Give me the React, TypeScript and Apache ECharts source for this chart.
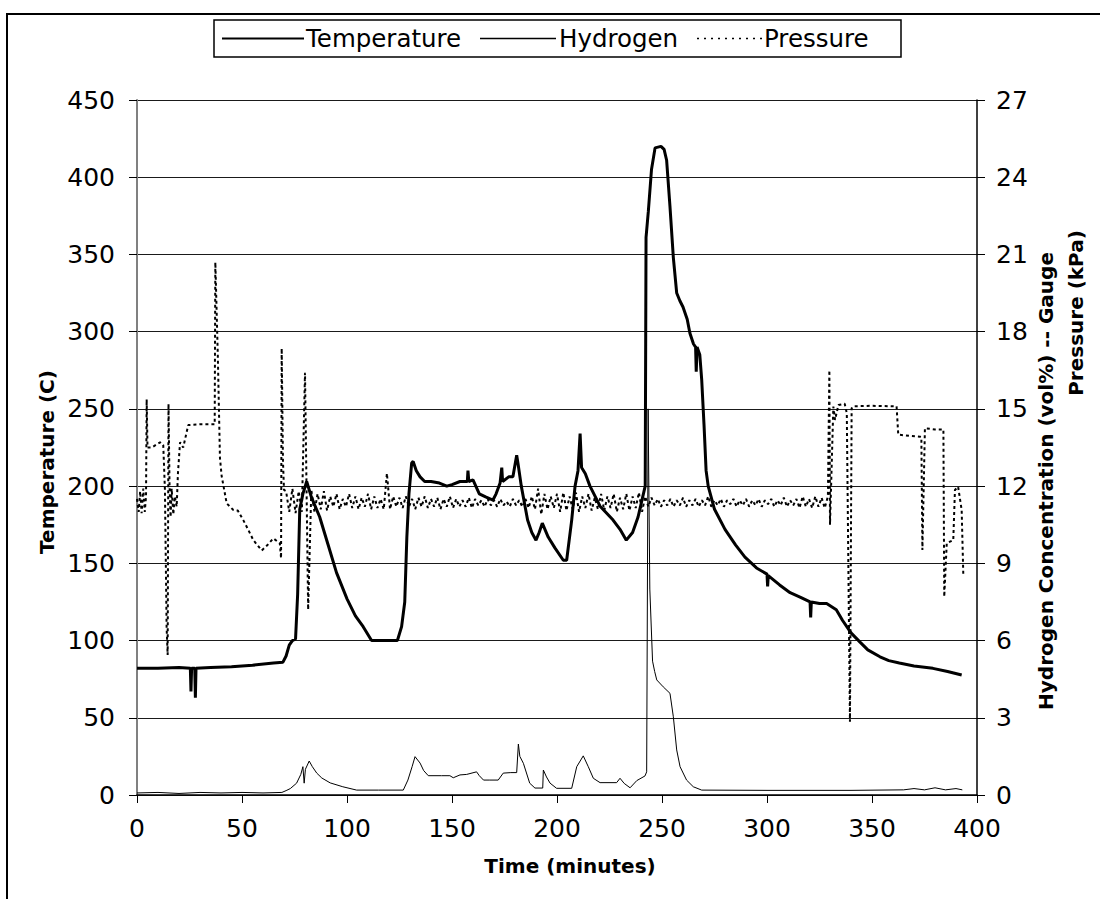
import React, { useEffect, useRef } from "react";
import * as echarts from "echarts";

// ---- Data (time in minutes) ----
const temperature: [number, number][] = [
  [0, 82], [10, 82], [20, 82.5], [25.4, 82], [25.7, 67], [26, 82], [27.5, 82], [27.8, 63], [28.1, 82],
  [35, 82.5], [45, 83], [55, 84], [65, 85.5], [69.5, 86], [71, 90], [72.5, 97], [74, 100], [75.5, 101],
  [76.5, 130], [77.5, 185], [79, 195], [80.8, 203], [83, 193], [87, 180], [91, 162], [95, 144], [100, 127],
  [104, 116], [107.7, 109], [111.7, 100], [118, 100], [124, 100], [126, 109], [127.5, 125], [128.5, 167],
  [129.5, 195], [130.8, 215], [131.5, 216], [133, 210], [134.8, 206], [137, 203], [140, 203], [144, 202],
  [147.5, 200], [150, 201], [153.8, 203], [156, 203], [157.3, 203], [157.6, 210], [158, 203], [160, 204],
  [163, 195], [166, 193], [169.5, 191], [171, 195], [172.9, 202], [173.7, 212], [174.1, 203], [177, 206],
  [179, 206], [180.8, 220], [181.5, 214], [183, 200], [186, 178], [188, 170], [190, 165], [191.5, 170],
  [193, 176], [195.8, 167], [199, 160], [203, 152], [204.6, 152], [207, 178], [208.6, 200], [210, 210],
  [211, 234], [211.7, 212], [213.5, 208], [215.7, 200], [220.5, 187], [226.7, 178], [230, 172], [233, 165],
  [236, 170], [238.6, 180], [242, 200], [242.4, 361], [243.5, 378], [245, 405], [246.7, 419], [249.5, 420],
  [251, 418], [252.2, 411], [253.8, 381], [255.4, 348], [257, 325], [258.5, 320], [260, 316], [262, 308],
  [263.3, 299], [265, 292], [266, 290], [266.3, 274], [266.7, 290], [268, 285], [268.9, 269], [270, 240],
  [271, 210], [272, 200], [275, 185], [280, 172], [285, 162], [289.5, 154], [295, 147], [300, 143],
  [300.3, 135], [300.6, 142], [306, 136], [311, 131], [316, 128], [320.5, 125], [320.8, 115], [321.1, 125],
  [325, 124], [328.4, 124], [333, 120], [336, 113], [338, 109], [340, 105], [344.3, 99], [348, 94],
  [353.8, 89.5], [358, 87], [363, 85.5], [370, 83.5], [379, 82], [386, 80], [392.7, 77.7],
];

const hydrogen: [number, number][] = [
  [0, 0.08], [10, 0.1], [20, 0.06], [30, 0.1], [40, 0.08], [50, 0.1], [60, 0.08], [69, 0.1], [71, 0.17],
  [73, 0.25], [76, 0.46], [78, 0.8], [79, 1.1], [79.6, 0.46], [80.2, 1.0], [82, 1.32], [83.5, 1.1],
  [85.6, 0.85], [88, 0.66], [92, 0.47], [98, 0.32], [104.6, 0.19], [115, 0.19], [126.8, 0.19], [129, 0.58],
  [131, 1.1], [132.4, 1.49], [134.8, 1.24], [136.5, 0.95], [138.7, 0.75], [145, 0.75], [149, 0.75],
  [150.6, 0.67], [153.8, 0.78], [157, 0.8], [161.7, 0.9], [163, 0.75], [165, 0.58], [168, 0.58], [172, 0.58],
  [174.4, 0.85], [178, 0.87], [180.8, 0.87], [181.6, 1.98], [182.3, 1.5], [184, 1.23], [187, 0.46],
  [189.5, 0.27], [193.2, 0.27], [193.5, 0.97], [195, 0.7], [196.7, 0.46], [199.8, 0.26], [207, 0.26],
  [209.4, 1.1], [212.5, 1.52], [214.9, 1.1], [217.3, 0.65], [220.5, 0.48], [228.4, 0.48], [230, 0.65],
  [232, 0.45], [234.8, 0.28], [238, 0.56], [241.9, 0.74], [242.7, 0.9], [243.4, 15.0], [244.2, 8.0],
  [245.5, 5.2], [246.5, 4.8], [247.5, 4.47], [250.6, 4.2], [253.8, 3.95], [255.4, 3.04], [257, 1.75],
  [258.6, 1.1], [261.7, 0.58], [264.9, 0.32], [268.9, 0.19], [300, 0.18], [340, 0.18], [365, 0.2],
  [370, 0.25], [375, 0.2], [380, 0.28], [385, 0.2], [390, 0.25], [393, 0.2],
];

const pressureEarly: [number, number][] = [
  [0, 11.5], [0.8, 11.0], [1.5, 11.8], [2.2, 10.95], [3, 11.9], [3.7, 11.0], [4.3, 11.6], [4.6, 15.37],
  [5, 13.5], [7, 13.5], [9, 13.6], [11, 13.7], [12.5, 13.6], [13.3, 11.85], [14.1, 6.5], [14.6, 5.44],
  [15, 15.2], [15.5, 12], [16, 10.8], [16.5, 11.9], [17.3, 10.9], [18, 11.6], [18.9, 11.2], [19.5, 12.5],
  [20.5, 13.7], [22, 13.5], [24.4, 14.37], [30, 14.4], [35, 14.4], [37, 14.4], [37.3, 20.7], [38.5, 17],
  [39.5, 13.1], [40.3, 12.4], [42.7, 11.33], [45.9, 11.07], [48, 11.05], [50.6, 10.68], [53, 10.3],
  [55.4, 9.9], [59.4, 9.5], [62, 9.7], [64.9, 9.97], [68, 9.78], [68.6, 9.2], [68.9, 17.35], [69.5, 13],
  [70, 11.85],
];

// Steady-state oscillating pressure, sampled every 1.5 min from 71 min
const pressureOscStart = 71;
const pressureOscStep = 1.5;
const pressureOsc: number[] = [
  11.8, 11.0, 11.9, 10.95, 11.8, 11.0, 16.4, 7.2, 11.85, 11.0,
  11.7, 11.1, 11.8, 11.05, 11.6, 11.2, 11.7, 11.1, 11.5, 11.2,
  11.7, 11.15, 11.6, 11.1, 11.55, 11.2, 11.7, 11.1, 11.6, 11.15,
  11.5, 11.1, 12.5, 11.1, 11.6, 11.2, 11.55, 11.15, 11.6, 11.2,
  11.5, 11.1, 11.55, 11.2, 11.6, 11.15, 11.5, 11.2, 11.55, 11.1,
  11.5, 11.2, 11.6, 11.15, 11.5, 11.2, 11.45, 11.2, 11.55, 11.15,
  11.5, 11.25, 11.45, 11.2, 11.5, 11.25, 11.45, 11.2, 11.5, 11.25,
  11.4, 11.2, 11.5, 11.25, 11.45, 11.2, 11.5, 11.15, 11.6, 11.1,
  11.9, 10.9, 11.7, 11.1, 11.6, 11.15, 11.7, 11.0, 11.75, 11.05,
  11.6, 11.1, 11.75, 11.0, 11.6, 11.15, 11.7, 11.05, 11.55, 11.1,
  11.7, 11.05, 11.6, 11.15, 11.7, 11.0, 11.55, 11.1, 11.7, 11.05,
  11.6, 11.15, 11.75, 11.0, 11.6, 11.2, 11.55, 11.25, 11.5, 11.2,
  11.45, 11.25, 11.5, 11.2, 11.45, 11.25, 11.55, 11.2, 11.45, 11.25,
  11.5, 11.2, 11.45, 11.25, 11.6, 11.2, 11.45, 11.25, 11.5, 11.2,
  11.45, 11.3, 11.5, 11.2, 11.45, 11.25, 11.5, 11.2, 11.45, 11.25,
  11.5, 11.2, 11.45, 11.3, 11.5, 11.2, 11.45, 11.25, 11.55, 11.2,
  11.45, 11.25, 11.5, 11.15, 11.6, 11.2, 11.5, 11.15, 11.6, 11.2,
  11.55, 11.15, 11.6,
];

const pressureLate: [number, number][] = [
  [329.7, 16.5], [330, 10.5], [331.6, 15.09], [332.4, 14.57], [334, 15.15], [337, 15.2], [338, 14.83],
  [339.5, 2.85], [340.3, 15.02], [341, 15.1], [350, 15.12], [361.7, 15.1], [362.5, 14.0], [368, 13.95],
  [372.9, 13.92], [373.5, 13.9], [374, 9.52], [375.2, 14.25], [380, 14.2], [384, 14.2], [384.4, 7.7],
  [385.6, 9.78], [388.7, 9.9], [389.5, 11.85], [391, 11.98], [392.7, 11.07], [393.5, 8.48],
];

const xTicks = { min: 0, max: 400, interval: 50 };
const leftTicks = { min: 0, max: 450, interval: 50 };
const rightTicks = { min: 0, max: 27, interval: 3 };
const seriesNames = ["Temperature", "Hydrogen", "Pressure"];

const FONT = "DejaVu Sans";

export default function App() {
  const ref = useRef<HTMLDivElement>(null);
  useEffect(() => {
    if (!ref.current) return;
    const chart = echarts.init(ref.current, null, { renderer: "svg" });
    const pressure: [number, number][] = [
      ...pressureEarly,
      ...pressureOsc.map((v, i) => [pressureOscStart + i * pressureOscStep, v] as [number, number]),
      ...pressureLate,
    ];
    const tick = { show: true, inside: false, length: 8, lineStyle: { color: "#000", width: 1 } };
    const label = { color: "#000", fontSize: 25, fontFamily: FONT };
    const legendFont = `24.5px '${FONT}'`;
    const titleFont = `bold 20px '${FONT}'`;
    chart.setOption({
      animation: false,
      backgroundColor: "#fff",
      grid: { left: 137, right: 123, top: 100, bottom: 104, containLabel: false },
      xAxis: {
        type: "value",
        ...xTicks,
        axisLine: { show: true, lineStyle: { color: "#000", width: 1.5 } },
        axisTick: tick,
        axisLabel: { ...label, margin: 21 },
        splitLine: { show: false },
      },
      yAxis: [
        {
          type: "value",
          ...leftTicks,
          position: "left",
          axisLine: { show: true, lineStyle: { color: "#808080", width: 2 } },
          axisTick: tick,
          axisLabel: { ...label, margin: 22 },
          splitLine: { show: true, lineStyle: { color: "#1a1a1a", width: 1 } },
        },
        {
          type: "value",
          ...rightTicks,
          position: "right",
          axisLine: { show: true, lineStyle: { color: "#000", width: 1.5 } },
          axisTick: tick,
          axisLabel: { ...label, margin: 19 },
          splitLine: { show: false },
        },
      ],
      series: [
        {
          name: seriesNames[0],
          type: "line",
          yAxisIndex: 0,
          data: temperature,
          symbol: "none",
          lineStyle: { color: "#000", width: 3 },
          z: 3,
        },
        {
          name: seriesNames[1],
          type: "line",
          yAxisIndex: 1,
          data: hydrogen,
          symbol: "none",
          lineStyle: { color: "#000", width: 1 },
          z: 2,
        },
        {
          name: seriesNames[2],
          type: "line",
          yAxisIndex: 1,
          data: pressure,
          symbol: "none",
          lineStyle: { color: "#000", width: 2, type: [3, 3] },
          z: 2,
        },
      ],
      graphic: [
        {
          type: "rect",
          z: -10,
          shape: { x: 7, y: 14, width: 1100, height: 900 },
          style: { fill: "none", stroke: "#000", lineWidth: 2 },
        },
        // legend
        {
          type: "rect",
          shape: { x: 214, y: 20, width: 687, height: 37 },
          style: { fill: "#fff", stroke: "#000", lineWidth: 1.5 },
        },
        { type: "line", shape: { x1: 222, y1: 38.5, x2: 304, y2: 38.5 }, style: { stroke: "#000", lineWidth: 2 } },
        {
          type: "text",
          x: 306,
          y: 38.5,
          style: { text: seriesNames[0], font: legendFont, fill: "#000", align: "left", verticalAlign: "middle" },
        },
        { type: "line", shape: { x1: 480, y1: 38.5, x2: 556, y2: 38.5 }, style: { stroke: "#000", lineWidth: 1.5 } },
        {
          type: "text",
          x: 559,
          y: 38.5,
          style: { text: seriesNames[1], font: legendFont, fill: "#000", align: "left", verticalAlign: "middle" },
        },
        {
          type: "line",
          shape: { x1: 697, y1: 38.5, x2: 762, y2: 38.5 },
          style: { stroke: "#000", lineWidth: 1.5, lineDash: [2, 5] },
        },
        {
          type: "text",
          x: 764,
          y: 38.5,
          style: { text: seriesNames[2], font: legendFont, fill: "#000", align: "left", verticalAlign: "middle" },
        },
        // axis titles
        {
          type: "text",
          x: 47,
          y: 462,
          rotation: Math.PI / 2,
          style: { text: "Temperature (C)", font: titleFont, fill: "#000", align: "center", verticalAlign: "middle" },
        },
        {
          type: "text",
          x: 570,
          y: 866,
          style: { text: "Time (minutes)", font: titleFont, fill: "#000", align: "center", verticalAlign: "middle" },
        },
        {
          type: "text",
          x: 1046,
          y: 481,
          rotation: Math.PI / 2,
          style: {
            text: "Hydrogen Concentration (vol%) -- Gauge",
            font: titleFont,
            fill: "#000",
            align: "center",
            verticalAlign: "middle",
          },
        },
        {
          type: "text",
          x: 1076,
          y: 313,
          rotation: Math.PI / 2,
          style: { text: "Pressure (kPa)", font: titleFont, fill: "#000", align: "center", verticalAlign: "middle" },
        },
      ],
    });
    return () => chart.dispose();
  }, []);
  return (
    <div
      ref={ref}
      style={{ position: "fixed", left: 0, top: 0, width: 1100, height: 899, background: "#fff" }}
    />
  );
}
